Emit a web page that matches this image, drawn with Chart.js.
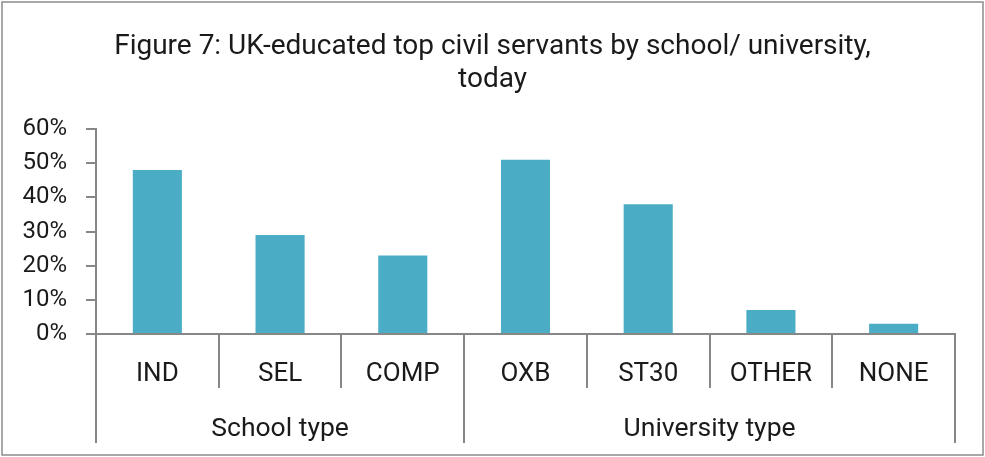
<!DOCTYPE html>
<html>
<head>
<meta charset="utf-8">
<script src="https://cdn.jsdelivr.net/npm/chart.js@4"></script>
<style>
  html, body { margin: 0; padding: 0; background: #ffffff; }
  canvas { display: block; }
</style>
</head>
<body>
<canvas id="c" width="985" height="457"></canvas>
<script>
// ---- data ----
const categories = ["IND", "SEL", "COMP", "OXB", "ST30", "OTHER", "NONE"];
const shares = [0.48, 0.29, 0.23, 0.51, 0.38, 0.07, 0.03];
const groupLabels = ["School type", "University type"];
const groupStart = [0, 3];
const groupEnd = [2, 6];
const yTicks = [0, 0.1, 0.2, 0.3, 0.4, 0.5, 0.6];
const titleLines = ["Figure 7: UK-educated top civil servants by school/ university,", "today"];

const FONT = "Roboto, 'DejaVu Sans', sans-serif";
const AXIS = "#878787";
const TEXT = "#1a1a1a";

const frame = {
  id: 'frame',
  afterLayout(chart) {
    // centre the title across the whole canvas
    if (chart.titleBlock) {
      chart.titleBlock.left = 0;
      chart.titleBlock.right = chart.width;
      chart.titleBlock.width = chart.width;
    }
  },
  beforeDraw(chart) {
    const ctx = chart.ctx;
    ctx.save();
    ctx.fillStyle = '#ffffff';
    ctx.fillRect(0, 0, chart.width, chart.height);
    ctx.strokeStyle = '#8c8c8c';
    ctx.lineWidth = 1.5;
    ctx.strokeRect(2, 2, chart.width - 4, chart.height - 4);
    ctx.restore();
  }
};

const groups = {
  id: 'groups',
  afterDraw(chart) {
    const x = chart.scales.x;
    const ctx = chart.ctx;
    const base = chart.chartArea.bottom;
    const half = (x.getPixelForValue(1) - x.getPixelForValue(0)) / 2;
    ctx.save();
    ctx.strokeStyle = AXIS;
    ctx.lineWidth = 2;
    ctx.fillStyle = TEXT;
    ctx.font = "26.5px " + FONT;
    ctx.textAlign = 'center';
    ctx.textBaseline = 'middle';
    for (let g = 0; g < groupLabels.length; g++) {
      const l = x.getPixelForValue(groupStart[g]) - half;
      const r = x.getPixelForValue(groupEnd[g]) + half;
      [l, r].forEach(px => {
        ctx.beginPath();
        ctx.moveTo(Math.round(px), base);
        ctx.lineTo(Math.round(px), base + 109);
        ctx.stroke();
      });
      ctx.fillText(groupLabels[g], (l + r) / 2, base + 95);
    }
    ctx.restore();
  }
};

new Chart(document.getElementById('c'), {
  type: 'bar',
  data: {
    labels: categories,
    datasets: [{
      data: shares,
      backgroundColor: '#4BACC6',
      borderWidth: 0,
      barPercentage: 0.4,
      categoryPercentage: 1.0
    }]
  },
  options: {
    responsive: false,
    animation: false,
    devicePixelRatio: 1,
    layout: { padding: { left: 0, right: 30, top: 0, bottom: 0 } },
    plugins: {
      legend: { display: false },
      tooltip: { enabled: false },
      title: {
        display: true,
        text: titleLines,
        color: TEXT,
        font: { family: FONT, size: 28, weight: 'normal', lineHeight: 1.18 },
        padding: { top: 30, bottom: 33 }
      }
    },
    scales: {
      x: {
        grid: {
          offset: true,
          drawOnChartArea: false,
          drawTicks: true,
          tickLength: 54,
          color: AXIS,
          lineWidth: 2
        },
        border: { display: true, color: AXIS, width: 2 },
        ticks: {
          color: TEXT,
          font: { family: FONT, size: 26 },
          padding: -29,
          maxRotation: 0,
          autoSkip: false
        },
        afterFit(s) { s.height = 123; }
      },
      y: {
        min: 0,
        max: 0.6,
        afterBuildTicks(s) { s.ticks = yTicks.map(v => ({ value: v })); },
        grid: {
          drawOnChartArea: false,
          drawTicks: true,
          tickLength: 10,
          color: AXIS,
          lineWidth: 2
        },
        border: { display: true, color: AXIS, width: 2 },
        ticks: {
          color: TEXT,
          font: { family: FONT, size: 24 },
          padding: 19,
          callback: v => Math.round(v * 100) + '%'
        },
        afterFit(s) { s.width = 96; }
      }
    }
  },
  plugins: [frame, groups]
});
</script>
</body>
</html>
